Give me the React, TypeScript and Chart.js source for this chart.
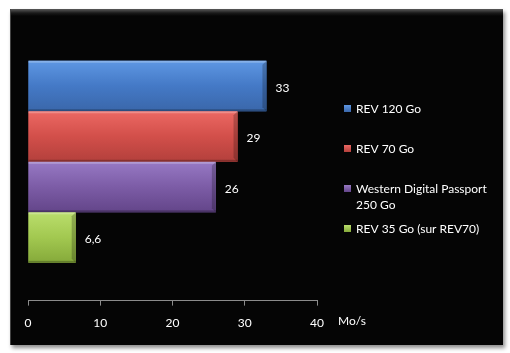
import React, { useEffect, useRef } from "react";
import { Chart, registerables } from "chart.js";

Chart.register(...registerables);

const categories = ["Débit"];
const seriesNames = ["REV 120 Go", "REV 70 Go", "Western Digital Passport 250 Go", "REV 35 Go (sur REV70)"];
const seriesValues = [33, 29, 26, 6.6];
const seriesColors = ["#4479c6", "#d24f4a", "#7c5ca6", "#a2c850"];
const seriesTop = ["#5e97e3", "#ec6863", "#9779c4", "#bade6c"];
const seriesBottom = ["#3a67aa", "#b3403c", "#634589", "#85a93a"];
const xTicks = [0, 10, 20, 30, 40];
const axisUnit = "Mo/s";

const FONT = "Lato, 'Open Sans', sans-serif";

const fmt = (v: number) => String(v).replace(".", ",");

const decorPlugin = {
  id: "decor",
  afterDatasetsDraw(chart: any) {
    const ctx = chart.ctx;
    chart.data.datasets.forEach((ds: any, i: number) => {
      const meta = chart.getDatasetMeta(i);
      meta.data.forEach((bar: any) => {
        const left = Math.min(bar.base, bar.x);
        const right = Math.max(bar.base, bar.x);
        const top = bar.y - bar.height / 2;
        const bottom = bar.y + bar.height / 2;
        const w = right - left;
        const h = bottom - top;
        ctx.save();
        const g = ctx.createLinearGradient(0, top, 0, bottom);
        g.addColorStop(0, seriesTop[i]);
        g.addColorStop(0.5, seriesColors[i]);
        g.addColorStop(1, seriesBottom[i]);
        ctx.fillStyle = g;
        ctx.fillRect(left, top, w, h);
        // bevel highlights
        ctx.fillStyle = "rgba(255,255,255,0.25)";
        ctx.fillRect(left, top, w, 2);
        ctx.fillStyle = "rgba(0,0,0,0.25)";
        ctx.fillRect(left, bottom - 2, w, 2);
        ctx.beginPath();
        ctx.moveTo(right - 4, top + 4);
        ctx.lineTo(right, top);
        ctx.lineTo(right, bottom);
        ctx.lineTo(right - 4, bottom - 4);
        ctx.closePath();
        ctx.fillStyle = "rgba(0,0,0,0.22)";
        ctx.fill();
        // value label
        ctx.fillStyle = "#ffffff";
        ctx.font = "12px " + FONT;
        ctx.textAlign = "left";
        ctx.textBaseline = "middle";
        ctx.fillText(fmt(ds.data[0]), right + 9, bar.y + 2);
        ctx.restore();
      });
    });
  },
  afterDraw(chart: any) {
    const ctx = chart.ctx;
    const area = chart.chartArea;
    const xs = chart.scales.x;
    ctx.save();
    ctx.font = "12px " + FONT;
    ctx.fillStyle = "#ffffff";
    ctx.textBaseline = "middle";
    ctx.textAlign = "left";
    // axis unit
    ctx.fillText(axisUnit, xs.getPixelForValue(40) + 21, area.bottom + 21);
    // legend
    const lx = area.right + 27;
    let ly = 100;
    const maxW = 140;
    chart.data.datasets.forEach((ds: any, i: number) => {
      const words = String(ds.label).split(" ");
      const lines: string[] = [];
      let cur = "";
      words.forEach((w) => {
        const t = cur ? cur + " " + w : w;
        if (ctx.measureText(t).width > maxW && cur) {
          lines.push(cur);
          cur = w;
        } else cur = t;
      });
      if (cur) lines.push(cur);
      const g = ctx.createLinearGradient(0, ly - 4, 0, ly + 3);
      g.addColorStop(0, seriesTop[i]);
      g.addColorStop(1, seriesBottom[i]);
      ctx.fillStyle = g;
      ctx.fillRect(lx, ly - 4, 7, 7);
      ctx.fillStyle = "#ffffff";
      lines.forEach((ln, k) => ctx.fillText(ln, lx + 12, ly + k * 16));
      ly += 40;
    });
    ctx.restore();
  },
};

export default function App() {
  const ref = useRef<HTMLCanvasElement | null>(null);
  useEffect(() => {
    const chart = new Chart(ref.current as HTMLCanvasElement, {
      type: "bar",
      data: {
        labels: categories,
        datasets: seriesNames.map((name, i) => ({
          label: name,
          data: [seriesValues[i]],
          backgroundColor: seriesColors[i],
          borderWidth: 0,
          barPercentage: 1,
          categoryPercentage: 0.728,
        })),
      },
      options: {
        indexAxis: "y",
        responsive: false,
        animation: false,
        layout: { padding: { left: 18, top: 14, right: 185, bottom: 5 } },
        plugins: { legend: { display: false }, tooltip: { enabled: false } },
        scales: {
          y: { display: false },
          x: {
            min: 0,
            max: 40,
            afterBuildTicks: (axis: any) => {
              axis.ticks = xTicks.map((v) => ({ value: v }));
            },
            grid: {
              display: true,
              drawOnChartArea: false,
              drawTicks: true,
              tickLength: 5,
              color: "#8c8c8c",
            },
            border: { display: true, color: "#8c8c8c", width: 1 },
            ticks: {
              color: "#ffffff",
              padding: 10,
              font: { family: FONT, size: 12 },
              maxRotation: 0,
            },
          },
        },
      },
      plugins: [decorPlugin],
    } as any);
    return () => chart.destroy();
  }, []);

  return (
    <div style={{ position: "fixed", left: 0, top: 0, width: 510, height: 353, background: "#ffffff" }}>
      <div
        style={{
          position: "absolute",
          left: 10,
          top: 9,
          width: 493,
          height: 336,
          background: "linear-gradient(#5a5a5a 0px, #1a1a1a 4px, #050505 7px, #050505 100%)",
          boxShadow: "2px 3px 4px rgba(0,0,0,0.45)",
          borderLeft: "1px solid #444",
          boxSizing: "border-box",
        }}
      >
        <canvas ref={ref} width={492} height={336} style={{ display: "block", position: "absolute", left: -1, top: 0 }} />
      </div>
    </div>
  );
}
